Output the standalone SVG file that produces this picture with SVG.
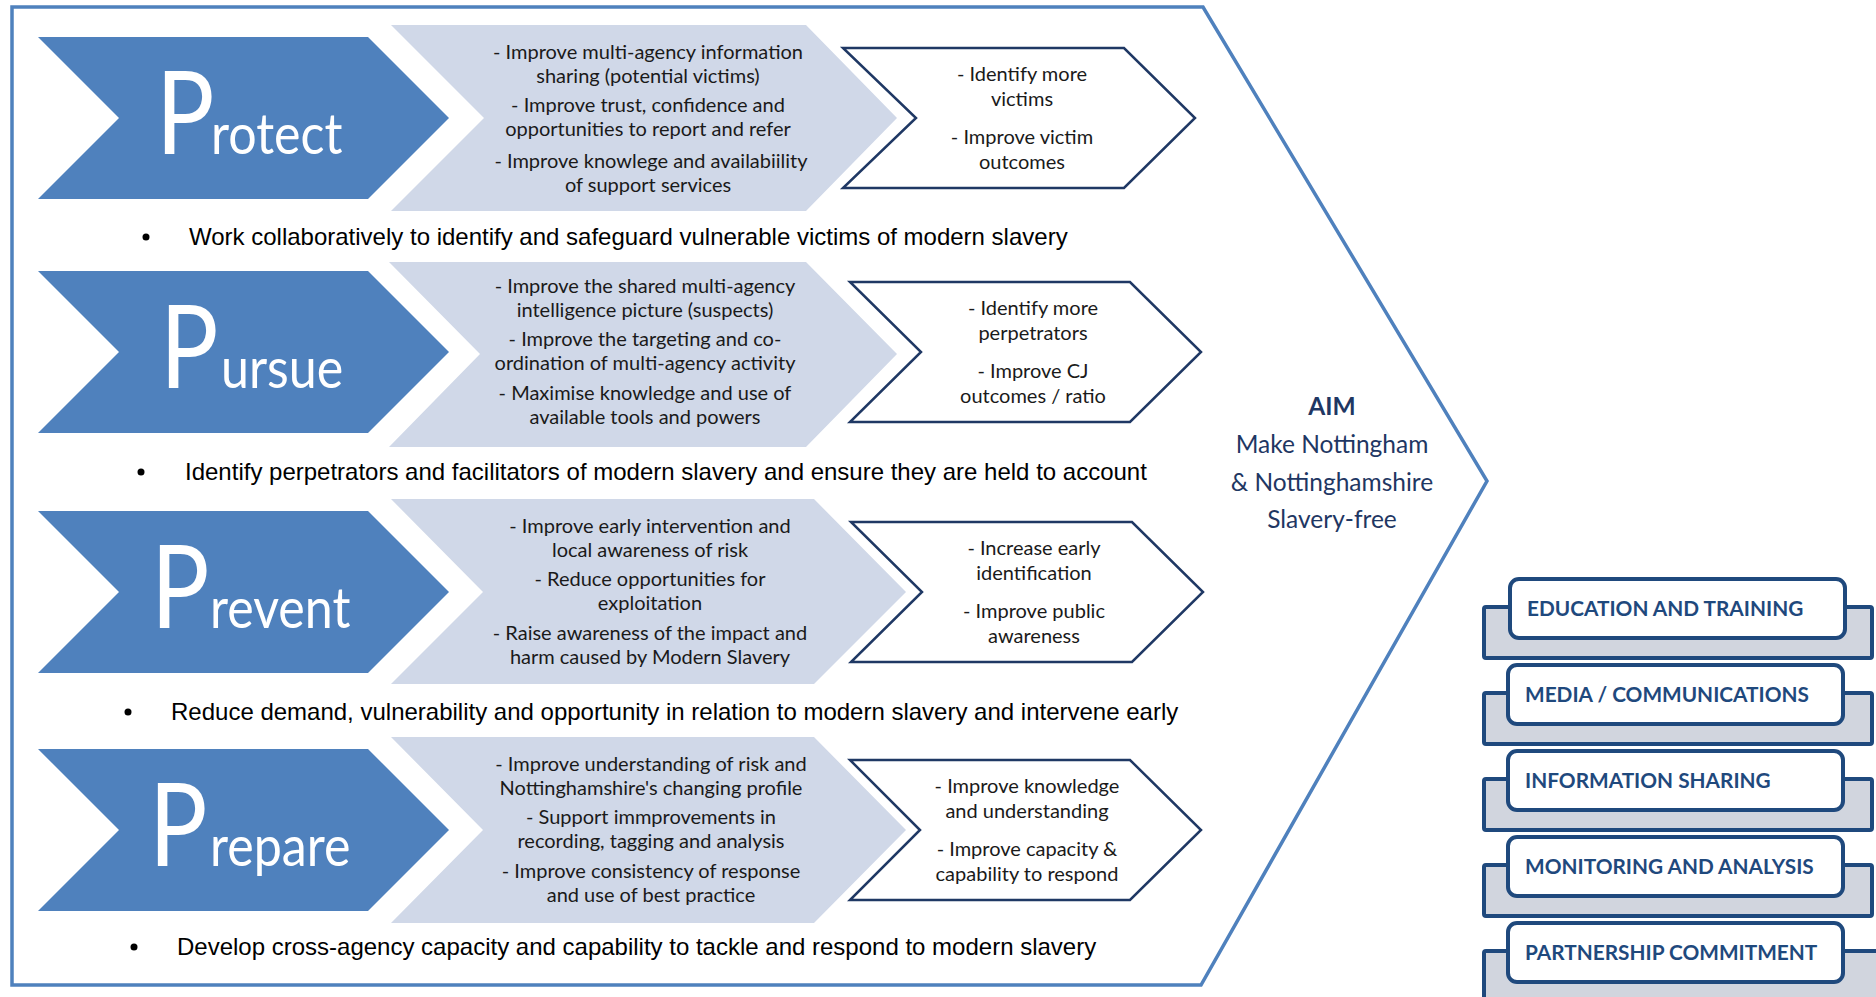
<svg xmlns="http://www.w3.org/2000/svg" width="1876" height="997" viewBox="0 0 1876 997">
<style>
.frame{fill:#ffffff;stroke:#4f81bd;stroke-width:3.5;stroke-linejoin:miter}
.blue{fill:#4f81bd}
.grey{fill:#d0d8e8}
.wch{fill:#ffffff;stroke:#1f3864;stroke-width:2.5;stroke-linejoin:miter}
.bigP{font-family:Lato,"Open Sans",sans-serif;font-size:116px;fill:#ffffff}
.bigR{font-family:Lato,"Open Sans",sans-serif;font-size:57px;fill:#ffffff}
.gt{font-family:Lato,"Open Sans",sans-serif;font-size:20px;fill:#1a1a1a;text-anchor:middle}
.wt{font-family:Lato,"Open Sans",sans-serif;font-size:20px;fill:#1a1a1a;text-anchor:middle}
.bt{font-family:"Liberation Sans",Arial,sans-serif;font-size:24px;fill:#000000}
.dot{fill:#000000}
.aim{font-family:Lato,"Open Sans",sans-serif;font-size:24.5px;fill:#1f3763;text-anchor:middle}
.back{fill:#d1d5de;stroke:#1f497d;stroke-width:4}
.front{fill:#ffffff;stroke:#1f497d;stroke-width:4}
.bx{font-family:Lato,"Open Sans",sans-serif;font-weight:bold;font-size:20.8px;fill:#1f497d}
</style>

<g id="frame">
<polygon class="frame" points="12,7 1203,7 1487,481 1201,985 12,985"/>
</g>

<g id="protect">
<polygon class="blue" points="38,37 368,37 449,118 368,199 38,199 119,118"/>
<text class="bigP" transform="translate(156,154) scale(0.84,1)">P</text>
<text class="bigR" transform="translate(211,154) scale(0.88,1)">rotect</text>
<polygon class="grey" points="391,25 806,25 897,118 806,211 391,211 484,118"/>
<text class="gt" x="648" y="59">- Improve multi-agency information</text>
<text class="gt" x="648" y="83">sharing (potential victims)</text>
<text class="gt" x="648" y="112">- Improve trust, confidence and</text>
<text class="gt" x="648" y="136">opportunities to report and refer</text>
<text class="gt" x="651" y="168">- Improve knowlege and availabiility</text>
<text class="gt" x="648" y="192">of support services</text>
<polygon class="wch" points="843,48 1124,48 1195,118 1124,188 843,188 916,118"/>
<text class="wt" x="1022" y="81">- Identify more</text>
<text class="wt" x="1022" y="106">victims</text>
<text class="wt" x="1022" y="144">- Improve victim</text>
<text class="wt" x="1022" y="169">outcomes</text>
<circle class="dot" cx="146" cy="237" r="3.5"/>
<text class="bt" x="189" y="245">Work collaboratively to identify and safeguard vulnerable victims of modern slavery</text>
</g>

<g id="pursue">
<polygon class="blue" points="38,271 368,271 449,352 368,433 38,433 119,352"/>
<text class="bigP" transform="translate(160,388) scale(0.84,1)">P</text>
<text class="bigR" transform="translate(221,388) scale(0.88,1)">ursue</text>
<polygon class="grey" points="389,262 806,262 897,354 806,447 389,447 480,354"/>
<text class="gt" x="645" y="293">- Improve the shared multi-agency</text>
<text class="gt" x="645" y="317">intelligence picture (suspects)</text>
<text class="gt" x="645" y="346">- Improve the targeting and co-</text>
<text class="gt" x="645" y="370">ordination of multi-agency activity</text>
<text class="gt" x="645" y="400">- Maximise knowledge and use of</text>
<text class="gt" x="645" y="424">available tools and powers</text>
<polygon class="wch" points="850,282 1130,282 1201,352 1130,422 850,422 921,352"/>
<text class="wt" x="1033" y="315">- Identify more</text>
<text class="wt" x="1033" y="340">perpetrators</text>
<text class="wt" x="1033" y="378">- Improve CJ</text>
<text class="wt" x="1033" y="403">outcomes / ratio</text>
<circle class="dot" cx="141" cy="472" r="3.5"/>
<text class="bt" x="185" y="480">Identify perpetrators and facilitators of modern slavery and ensure they are held to account</text>
</g>

<g id="prevent">
<polygon class="blue" points="38,511 368,511 449,592 368,673 38,673 119,592"/>
<text class="bigP" transform="translate(151,628) scale(0.84,1)">P</text>
<text class="bigR" transform="translate(210,628) scale(0.88,1)">revent</text>
<polygon class="grey" points="391,499 814,499 906,592 814,684 391,684 483,592"/>
<text class="gt" x="650" y="533">- Improve early intervention and</text>
<text class="gt" x="650" y="557">local awareness of risk</text>
<text class="gt" x="650" y="586">- Reduce opportunities for</text>
<text class="gt" x="650" y="610">exploitation</text>
<text class="gt" x="650" y="640">- Raise awareness of the impact and</text>
<text class="gt" x="650" y="664">harm caused by Modern Slavery</text>
<polygon class="wch" points="851,522 1132,522 1203,592 1132,662 851,662 922,592"/>
<text class="wt" x="1034" y="555">- Increase early</text>
<text class="wt" x="1034" y="580">identification</text>
<text class="wt" x="1034" y="618">- Improve public</text>
<text class="wt" x="1034" y="643">awareness</text>
<circle class="dot" cx="128" cy="712" r="3.5"/>
<text class="bt" x="171" y="720">Reduce demand, vulnerability and opportunity in relation to modern slavery and intervene early</text>
</g>

<g id="prepare">
<polygon class="blue" points="38,749 368,749 449,830 368,911 38,911 119,830"/>
<text class="bigP" transform="translate(149,866) scale(0.84,1)">P</text>
<text class="bigR" transform="translate(210,866) scale(0.88,1)">repare</text>
<polygon class="grey" points="391,737 814,737 906,830 814,923 391,923 483,830"/>
<text class="gt" x="651" y="771">- Improve understanding of risk and</text>
<text class="gt" x="651" y="795">Nottinghamshire's changing profile</text>
<text class="gt" x="651" y="824">- Support immprovements in</text>
<text class="gt" x="651" y="848">recording, tagging and analysis</text>
<text class="gt" x="651" y="878">- Improve consistency of response</text>
<text class="gt" x="651" y="902">and use of best practice</text>
<polygon class="wch" points="850,760 1130,760 1201,830 1130,900 850,900 920,830"/>
<text class="wt" x="1027" y="793">- Improve knowledge</text>
<text class="wt" x="1027" y="818">and understanding</text>
<text class="wt" x="1027" y="856">- Improve capacity &amp;</text>
<text class="wt" x="1027" y="881">capability to respond</text>
<circle class="dot" cx="134" cy="947" r="3.5"/>
<text class="bt" x="177" y="955">Develop cross-agency capacity and capability to tackle and respond to modern slavery</text>
</g>

<g id="aim">
<text class="aim" x="1332" y="415" font-weight="bold">AIM</text>
<text class="aim" x="1332" y="453">Make Nottingham</text>
<text class="aim" x="1332" y="491">&amp; Nottinghamshire</text>
<text class="aim" x="1332" y="528">Slavery-free</text>
</g>

<g id="education-training">
<rect class="back" x="1484" y="607" width="388" height="51" rx="2"/>
<rect class="front" x="1510" y="579" width="335" height="59" rx="9"/>
<text class="bx" x="1527" y="616">EDUCATION AND TRAINING</text>
</g>
<g id="media-communications">
<rect class="back" x="1484" y="693" width="388" height="51" rx="2"/>
<rect class="front" x="1508" y="665" width="335" height="59" rx="9"/>
<text class="bx" x="1525" y="702">MEDIA / COMMUNICATIONS</text>
</g>
<g id="information-sharing">
<rect class="back" x="1484" y="779" width="388" height="51" rx="2"/>
<rect class="front" x="1508" y="751" width="335" height="59" rx="9"/>
<text class="bx" x="1525" y="788">INFORMATION SHARING</text>
</g>
<g id="monitoring-analysis">
<rect class="back" x="1484" y="865" width="388" height="51" rx="2"/>
<rect class="front" x="1508" y="837" width="335" height="59" rx="9"/>
<text class="bx" x="1525" y="874">MONITORING AND ANALYSIS</text>
</g>
<g id="partnership-commitment">
<rect class="back" x="1484" y="951" width="396" height="60" rx="2"/>
<rect class="front" x="1508" y="923" width="335" height="59" rx="9"/>
<text class="bx" x="1525" y="960">PARTNERSHIP COMMITMENT</text>
</g>

<g id="connectors"></g>
</svg>
